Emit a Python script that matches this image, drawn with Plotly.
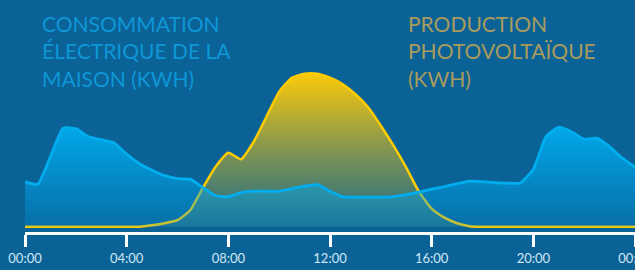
import plotly.graph_objects as go

hours = [0.0, 0.5, 1.0, 1.5, 2.0, 2.5, 3.0, 3.5, 4.0, 4.5, 5.0, 5.5, 6.0, 6.5,
         7.0, 7.5, 8.0, 8.5, 9.0, 9.5, 10.0, 10.5, 11.0, 11.5, 12.0, 12.5,
         13.0, 13.5, 14.0, 14.5, 15.0, 15.5, 16.0, 16.5, 17.0, 17.5, 18.0,
         18.5, 19.0, 19.5, 20.0, 20.5, 21.0, 21.5, 22.0, 22.5, 23.0, 23.5, 24.0]

consommation = [0.90, 0.85, 1.40, 1.97, 1.96, 1.80, 1.74, 1.68, 1.45, 1.26,
                1.13, 1.02, 0.96, 0.95, 0.78, 0.62, 0.60, 0.68, 0.71, 0.71,
                0.71, 0.76, 0.81, 0.84, 0.71, 0.60, 0.59, 0.59, 0.59, 0.60,
                0.64, 0.69, 0.75, 0.80, 0.86, 0.91, 0.90, 0.88, 0.87, 0.88,
                1.15, 1.80, 1.99, 1.90, 1.75, 1.77, 1.60, 1.37, 1.19]

production = [0, 0, 0, 0, 0, 0, 0, 0, 0, 0,
              0.03, 0.07, 0.13, 0.33, 0.78, 1.20, 1.48, 1.35, 1.70, 2.20,
              2.70, 2.98, 3.06, 3.06, 2.98, 2.85, 2.65, 2.39, 2.02, 1.62,
              1.18, 0.70, 0.36, 0.18, 0.07, 0.01, 0, 0, 0, 0,
              0, 0, 0, 0, 0, 0, 0, 0, 0]

tick_vals = [0, 4, 8, 12, 16, 20, 24]
tick_text = ["00:00", "04:00", "08:00", "12:00", "16:00", "20:00", "00:00"]

title_conso = "CONSOMMATION<br>ÉLECTRIQUE DE LA<br>MAISON (KWH)"
title_prod = "PRODUCTION<br>PHOTOVOLTAÏQUE<br>(KWH)"

BG = "#0A6296"
W, H = 635, 270
plot_bottom = 232

fig = go.Figure()

fig.add_trace(go.Scatter(
    x=hours, y=production, mode="lines",
    line=dict(color="#FFCC00", width=2.5, shape="spline", smoothing=0.5),
    fill="tozeroy",
    fillgradient=dict(type="vertical", start=0, stop=3.07,
                      colorscale=[[0, "rgba(250,200,10,0.08)"],
                                  [0.5, "rgba(250,200,10,0.5)"],
                                  [1, "rgba(252,202,10,1)"]]),
    hoverinfo="skip", showlegend=False,
))

fig.add_trace(go.Scatter(
    x=hours, y=consommation, mode="lines",
    line=dict(color="#00AEEF", width=2.8, shape="spline", smoothing=0.5),
    fill="tozeroy",
    fillgradient=dict(type="vertical", start=0, stop=2.0,
                      colorscale=[[0, "rgba(0,165,235,0.2)"],
                                  [1, "rgba(0,172,238,0.95)"]]),
    hoverinfo="skip", showlegend=False,
))

fig.add_annotation(text=title_conso, xref="paper", yref="paper",
                   x=40 / W, y=1 - 9 / plot_bottom, xanchor="left", yanchor="top",
                   align="left", showarrow=False,
                   font=dict(family="Lato", size=21, color="#0E97D6"))
fig.add_annotation(text=title_prod, xref="paper", yref="paper",
                   x=406 / W, y=1 - 9 / plot_bottom, xanchor="left", yanchor="top",
                   align="left", showarrow=False,
                   font=dict(family="Lato", size=21, color="#A89B5E"))

fig.update_layout(
    width=W, height=H,
    margin=dict(l=0, r=0, t=0, b=H - plot_bottom, pad=0, autoexpand=False),
    paper_bgcolor=BG, plot_bgcolor=BG,
    xaxis=dict(domain=[25 / W, 1], range=[0, 24], showgrid=False, zeroline=False,
               automargin=False, ticklabeloverflow="allow",
               showline=True, linecolor="white", linewidth=3,
               ticks="outside", ticklen=12, tickwidth=3, tickcolor="white",
               tickvals=tick_vals, ticktext=tick_text,
               tickfont=dict(family="Lato", size=13, color="#D2E8F5")),
    yaxis=dict(range=[-0.106, 4.534], showgrid=False, zeroline=False,
               automargin=False,
               showticklabels=False, showline=False),
)

fig.write_html(
    "out.html",
    config={"displayModeBar": False, "staticPlot": True},
    post_script="document.body.style.margin='0';document.body.style.overflow='hidden';"
                "document.body.style.background='" + BG + "';",
)
